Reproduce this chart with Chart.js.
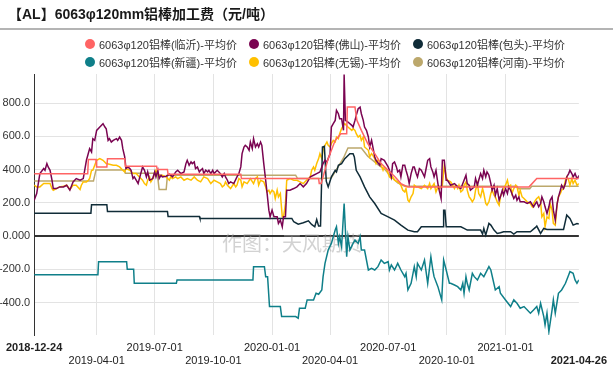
<!DOCTYPE html>
<html><head><meta charset="utf-8">
<script src="https://cdn.jsdelivr.net/npm/chart.js@4.4.1/dist/chart.umd.min.js"></script>
<style>
html,body{margin:0;padding:0;background:#fff;}
#wrap{position:relative;width:613px;height:375px;overflow:hidden;font-family:"Liberation Sans","Noto Sans CJK SC",sans-serif;}
canvas{position:absolute;left:0;top:0;}
#title{position:absolute;left:0;top:0;width:605px;height:28px;border-bottom:2px solid #b4b4b4;font-weight:bold;font-size:14px;line-height:28px;padding-left:8px;color:#1a1a1a;white-space:nowrap;}
.item{position:absolute;height:18px;display:flex;align-items:center;font-size:11px;color:#333;white-space:nowrap;}
.dot{width:10px;height:10px;border-radius:50%;margin-right:4px;flex:none;}
</style></head>
<body>
<div id="wrap">
<canvas id="c" width="613" height="375"></canvas>
<div id="title">【AL】6063φ120mm铝棒加工费（元/吨）</div>
<div id="legend"></div>
</div>
<script>
const FONT = '"Liberation Sans","Noto Sans CJK SC",sans-serif';
const titleText = '【AL】6063φ120mm铝棒加工费（元/吨）';
const watermarkText = '作图：天风期货';
const seriesNames = ['6063φ120铝棒(临沂)-平均价','6063φ120铝棒(佛山)-平均价','6063φ120铝棒(包头)-平均价','6063φ120铝棒(新疆)-平均价','6063φ120铝棒(无锡)-平均价','6063φ120铝棒(河南)-平均价'];
const seriesColors = ['#ff6464','#7a0451','#102c38','#0f7f89','#ffc000','#bca86c'];
const startDate = '2018-12-24';
const xTickDates = ['2018-12-24','2019-04-01','2019-07-01','2019-10-01','2020-01-01','2020-04-01','2020-07-01','2020-10-01','2021-01-01','2021-04-26'];
const yTickValues = [-400,-200,0,200,400,600,800];
const yTickLabels = ['-400.0','-200.0','0.000','200.0','400.0','600.0','800.0'];
const yMin = -595, yMax = 975;

// days since 2018-12-24
const linyiDays = [0,84,85,97,98,114,115,142,143,192,193,209,210,324,325,446,447,450,461,472,481,490,491,503,506,513,523,534,544,555,566,575,586,776,788,854];
const linyiValues = [375,375,460,460,415,415,465,465,420,420,400,400,372,372,346,346,316,316,466,576,616,616,776,776,696,636,556,496,436,396,356,316,296,296,346,346];

const foshanDays = [0,4,9,15,17,20,22,25,28,30,35,40,46,51,56,61,66,72,77,82,87,90,92,95,98,103,108,111,113,116,118,121,124,129,131,134,137,139,142,144,147,150,152,155,157,160,163,165,170,173,176,178,181,186,189,191,194,196,199,201,207,212,217,222,
225,230,235,238,240,243,246,248,251,253,256,259,261,264,266,269,272,274,277,280,282,287,292,295,298,300,303,305,308,313,318,321,324,326,329,331,334,337,339,342,344,347,350,352,355,357,360,363,365,368,370,373,376,381,383,386,389,391,394,396,401,407,412,417,422,427,433,438,443,448,
451,453,456,459,461,464,466,469,472,474,477,479,482,485,486,488,492,498,500,503,505,508,511,513,516,518,521,524,526,529,531,534,536,542,544,549,552,555,557,560,562,565,568,570,573,575,578,581,583,586,588,591,594,596,599,601,604,607,612,614,617,620,622,625,627,630,633,635,638,640,643,646,648,
653,659,664,669,674,677,679,682,684,690,692,695,697,700,703,705,708,710,713,716,718,721,723,726,729,731,734,736,739,742,744,747,749,752,755,757,760,762,768,773,778,783,786,788,791,794,796,799,801,804,807,809,812,814,817,820,822,825,827,830,833,835,838,840,843,845,848,851,853,854];
const foshanValues = [216,256,376,406,396,436,416,396,336,286,286,296,296,306,276,326,346,336,346,456,526,506,586,576,636,656,676,656,646,576,586,566,576,586,576,596,576,526,476,406,416,406,396,346,356,336,316,346,416,396,356,386,336,346,386,356,396,346,366,356,360,372,356,386,
396,376,386,436,456,426,446,436,446,406,416,386,396,406,376,396,386,396,376,396,376,396,376,356,376,356,336,316,326,316,356,376,416,496,536,546,536,516,566,526,586,536,556,536,566,546,436,336,266,156,116,156,116,116,76,96,56,116,116,276,276,286,296,316,296,316,356,366,376,386,
416,436,456,446,466,496,656,676,696,756,736,706,706,636,972,696,686,666,656,696,726,766,776,736,696,656,636,596,536,576,536,476,456,426,466,456,436,416,396,356,436,446,416,386,396,356,426,426,396,356,316,376,416,416,376,356,406,396,356,396,456,466,416,386,356,396,316,276,226,456,456,336,336,
306,316,296,286,336,366,316,306,276,296,346,306,336,376,346,396,356,386,366,316,276,306,246,286,216,236,276,246,286,256,296,276,256,226,246,216,236,206,206,196,206,176,196,206,176,196,236,206,176,136,176,216,236,156,96,196,236,276,306,286,316,356,376,396,376,356,376,346,356,366];

const baotouDays = [0,89,90,114,115,209,210,259,260,404,407,414,422,430,435,440,443,446,449,452,455,458,461,466,472,474,477,482,487,495,500,502,505,511,518,526,534,544,555,565,575,586,596,601,607,617,641,642,644,646,653,669,674,679,700,703,705,708,713,716,721,726,731,736,747,752,757,778,786,788,794,799,804,830,835,840,845,851,854];
const baotouValues = [138,138,188,188,148,148,118,118,106,106,86,72,80,92,70,56,100,60,60,536,540,330,296,356,396,386,426,436,466,496,496,476,396,356,296,236,196,136,116,96,66,36,26,26,56,56,56,156,156,56,56,56,46,36,36,12,46,6,76,66,36,16,20,26,26,12,26,26,52,60,16,46,40,40,126,106,66,76,72];

const xinjiangDays = [0,100,101,145,146,156,157,223,224,343,344,361,363,366,369,386,388,410,414,416,425,428,438,442,446,451,453,456,461,466,472,474,477,479,482,486,490,492,495,500,503,508,511,513,518,524,529,534,539,544,549,555,557,560,565,570,575,581,583,586,591,596,599,601,607,612,617,622,625,627,633,639,642,646,651,653,659,664,669,672,674,677,679,682,687,690,695,700,705,713,716,723,729,731,739,747,752,757,762,768,778,783,788,791,794,799,801,804,807,812,814,817,822,827,833,838,840,845,848,851,854];
const xinjiangValues = [-232,-232,-154,-154,-200,-200,-284,-284,-264,-264,-184,-184,-244,-244,-424,-424,-484,-484,-494,-434,-434,-384,-384,-344,-350,-324,-244,-164,-84,-44,36,56,-44,-4,-64,196,-124,-4,-84,-44,-24,-44,-4,-84,-84,-204,-194,-204,-184,-144,-164,-154,-204,-174,-204,-164,-204,-244,-224,-324,-284,-184,-244,-164,-204,-144,-284,-124,-204,-244,-304,-384,-144,-204,-284,-284,-294,-304,-324,-284,-344,-244,-284,-324,-224,-244,-264,-224,-244,-184,-204,-324,-304,-344,-384,-424,-384,-404,-434,-424,-464,-444,-424,-464,-404,-484,-534,-464,-575,-444,-384,-464,-344,-324,-284,-234,-214,-224,-264,-284,-264];

const wuxiDays = [0,4,9,15,20,25,28,30,35,40,46,51,56,61,66,72,74,77,82,85,87,90,92,95,98,103,108,113,118,124,129,134,139,142,144,150,155,160,165,170,173,176,178,181,183,186,189,191,194,196,201,207,212,214,217,222,
225,230,235,240,246,251,256,261,266,272,277,282,287,292,295,298,300,303,308,313,316,318,321,324,326,329,334,339,344,347,350,352,355,360,363,365,368,370,373,376,378,381,383,386,389,391,394,396,401,407,412,417,422,427,433,435,438,440,443,446,448,
451,453,456,459,461,464,466,469,472,474,477,479,482,485,487,492,498,500,503,505,508,511,513,516,518,524,526,529,531,534,536,539,542,544,547,549,552,555,557,560,562,565,570,573,575,578,581,583,586,588,591,594,596,599,601,607,612,617,620,622,627,630,633,635,638,640,643,646,648,
653,656,659,661,664,666,669,672,674,677,679,682,684,687,690,692,695,697,700,703,705,708,710,713,716,718,721,723,726,729,731,734,736,739,742,744,747,749,752,755,757,760,762,765,768,773,778,781,783,786,788,791,794,796,799,801,804,807,809,812,814,817,820,822,825,827,830,833,835,838,840,843,845,848,851,854];
const wuxiValues = [306,296,296,316,316,316,286,276,286,296,300,306,280,306,306,280,306,326,326,336,346,396,396,426,456,466,456,436,432,426,426,416,396,386,406,396,376,376,356,336,316,306,336,356,326,346,376,396,376,366,366,356,336,356,346,356,
346,356,336,346,336,356,336,326,356,346,316,336,326,316,296,306,326,306,286,316,296,306,346,336,296,326,316,346,316,346,356,306,336,326,296,266,276,256,276,266,226,276,236,256,116,116,196,336,346,336,336,326,316,336,356,396,416,396,436,466,496,
466,516,546,566,546,536,556,576,566,596,586,616,646,666,676,656,636,646,636,616,596,606,576,596,536,516,476,496,486,466,436,456,446,426,396,416,406,376,356,346,356,336,326,316,306,276,266,286,216,206,236,256,306,296,296,286,306,286,316,286,316,266,296,286,296,306,426,356,336,
326,306,286,306,286,306,266,276,306,326,276,236,226,206,226,276,316,256,236,286,256,196,186,206,256,276,246,236,206,186,236,266,286,306,336,296,306,256,286,306,296,246,276,236,226,206,196,176,196,216,226,236,206,116,136,56,116,106,196,156,76,66,196,236,256,276,286,336,356,336,306,346,316,336,306,316];

const henanDays = [0,93,97,142,143,193,196,207,209,410,413,450,466,477,485,492,513,523,539,550,559,570,581,757,759,777,780,854];
const henanValues = [332,332,398,398,378,378,280,280,366,366,346,346,350,420,470,530,530,480,430,400,360,320,300,300,284,284,300,300];

function dayOf(s){
  const p = s.split('-').map(Number), q = startDate.split('-').map(Number);
  return Math.round((Date.UTC(p[0],p[1]-1,p[2]) - Date.UTC(q[0],q[1]-1,q[2])) / 86400000);
}
function pairs(days, vals){ return days.map((d,i)=>({x:d, y:vals[i]})); }

const seriesData = [
  pairs(linyiDays, linyiValues),
  pairs(foshanDays, foshanValues),
  pairs(baotouDays, baotouValues),
  pairs(xinjiangDays, xinjiangValues),
  pairs(wuxiDays, wuxiValues),
  pairs(henanDays, henanValues)
];

// HTML legend built from the series
const lg = document.getElementById('legend');
seriesNames.forEach((n,i)=>{
  const it = document.createElement('div');
  it.className = 'item';
  it.style.left = (85 + (i%3)*164) + 'px';
  it.style.top = (35 + Math.floor(i/3)*18) + 'px';
  const dot = document.createElement('span'); dot.className='dot'; dot.style.background = seriesColors[i];
  const tx = document.createElement('span'); tx.textContent = n;
  it.appendChild(dot); it.appendChild(tx); lg.appendChild(it);
});

const watermark = {
  id:'watermark',
  beforeDatasetsDraw(chart){
    const c = chart.ctx; c.save();
    c.font = '20px "Noto Sans CJK SC"';
    c.fillStyle = 'rgba(165,165,165,0.5)';
    c.textBaseline = 'middle';
    c.fillText(watermarkText, 222, 243);
    c.restore();
  }
};

const lastIdx = xTickDates.length - 1;
new Chart(document.getElementById('c'), {
  type:'line',
  data:{ datasets: seriesNames.map((n,i)=>({
    label:n, data:seriesData[i], borderColor:seriesColors[i], backgroundColor:seriesColors[i],
    borderWidth:1.5, pointRadius:0, tension:0, fill:false
  }))},
  options:{
    responsive:false, animation:false,
    layout:{padding:{top:74,right:30,left:0,bottom:0}},
    plugins:{legend:{display:false}, tooltip:{enabled:false}, title:{display:false}},
    scales:{
      x:{
        type:'linear', min:0, max:dayOf(xTickDates[lastIdx]),
        afterBuildTicks:s=>{ s.ticks = xTickDates.map(d=>({value:dayOf(d)})); },
        afterFit:s=>{ s.height = 40; },
        grid:{ color:ctx=> ctx.index===lastIdx ? 'rgba(0,0,0,0)' : '#e3e3e3', drawTicks:false, lineWidth:1 },
        border:{display:false},
        ticks:{ autoSkip:false, maxRotation:0, minRotation:0, padding:6, color:'#222',
          font:ctx=>({family:FONT, size:11, weight:(ctx.index===0||ctx.index===lastIdx)?'bold':'normal'}),
          callback:(v,i)=> i%2 ? ['', xTickDates[i]] : xTickDates[i] }
      },
      y:{
        min:yMin, max:yMax,
        afterBuildTicks:s=>{ s.ticks = yTickValues.map(v=>({value:v})); },
        afterFit:s=>{ s.width = 34; },
        grid:{ color:ctx=> (ctx.tick && ctx.tick.value===0) ? '#333' : '#e3e3e3',
               lineWidth:ctx=> (ctx.tick && ctx.tick.value===0) ? 2 : 1, drawTicks:false },
        border:{color:'#333', width:1},
        ticks:{ padding:4, color:'#333', font:{family:FONT, size:11},
          callback:(v)=> yTickLabels[yTickValues.indexOf(v)] }
      }
    }
  },
  plugins:[watermark]
});
</script>
</body></html>
